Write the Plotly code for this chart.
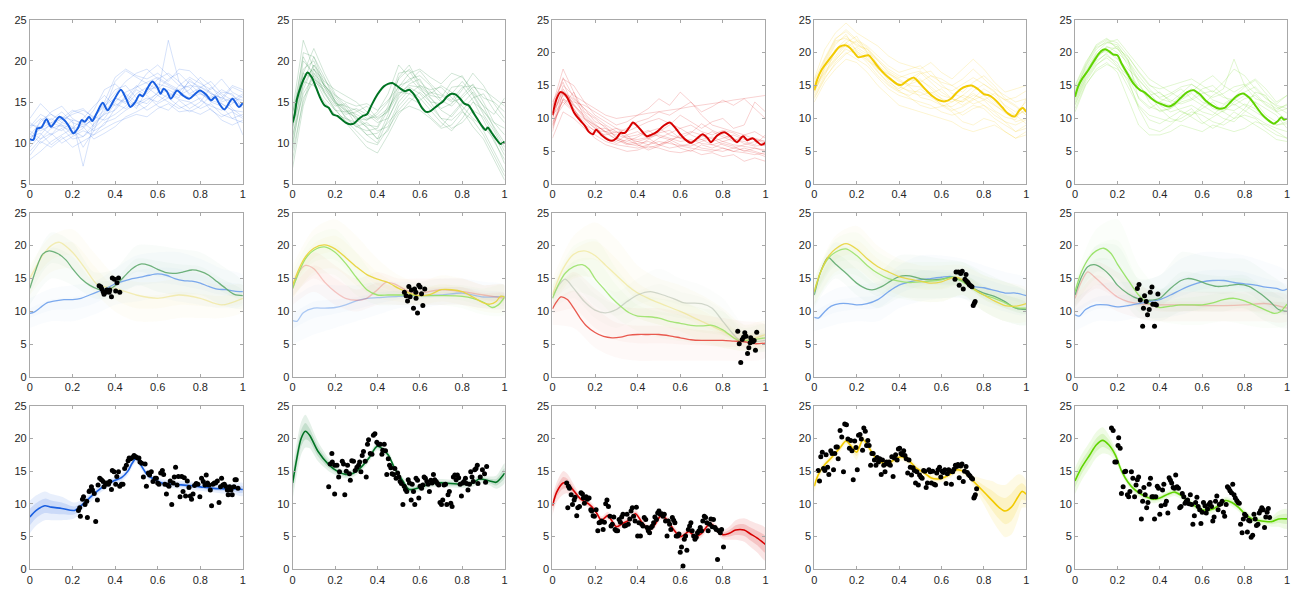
import plotly.graph_objects as go

# ---------------------------------------------------------------- grids
GRID20 = [0.0, 0.05, 0.1, 0.15, 0.2, 0.25, 0.3, 0.35, 0.4, 0.45, 0.5,
          0.55, 0.6, 0.65, 0.7, 0.75, 0.8, 0.85, 0.9, 0.95, 1.0]
GRID10 = [0.0, 0.1, 0.2, 0.3, 0.4, 0.5, 0.6, 0.7, 0.8, 0.9, 1.0]
X_TICKS = [0, 0.2, 0.4, 0.6, 0.8, 1.0]
X_TICK_TEXT = ["0", "0.2", "0.4", "0.6", "0.8", "1"]
Y_TICKS = [0, 5, 10, 15, 20, 25]

# ---------------------------------------------------------------- colours
BLUE = (25, 95, 225)
DGREEN = (0, 115, 35)
RED = (215, 0, 0)
YELLOW = (242, 202, 0)
LGREEN = (95, 212, 0)
MUTED_BLUE = (110, 160, 235)
MUTED_GREEN = (95, 170, 110)
MUTED_YELLOW = (232, 212, 60)
MUTED_LGREEN = (150, 225, 100)
MUTED_RED = (232, 80, 70)
MUTED_GRAY = (175, 185, 170)

# ============================================================ row 1 data
blue_runs = [
    [10.5, 11.8, 12.5, 12.0, 11.5, 10.8, 12.3, 13.5, 15.0, 16.2, 16.8, 17.5, 18.0, 17.2, 16.5, 17.0, 16.8, 16.0, 15.5, 15.0, 14.6],
    [12.0, 13.5, 12.8, 13.8, 12.5, 12.0, 13.0, 14.8, 16.5, 17.0, 15.5, 16.2, 17.8, 18.5, 17.5, 16.0, 16.8, 17.5, 16.0, 15.2, 16.0],
    [9.0, 10.5, 11.2, 10.0, 10.8, 11.5, 11.0, 12.5, 13.0, 14.0, 14.8, 15.5, 15.0, 16.0, 15.3, 15.0, 14.2, 14.8, 13.5, 13.0, 12.5],
    [11.0, 12.5, 13.8, 14.5, 13.0, 12.2, 12.8, 14.0, 17.5, 18.8, 18.0, 17.2, 16.5, 17.8, 18.5, 17.2, 16.0, 15.5, 16.5, 15.8, 14.8],
    [8.0, 9.0, 10.2, 11.0, 11.8, 12.0, 10.5, 11.2, 12.0, 13.2, 13.8, 14.5, 15.8, 15.0, 14.2, 14.8, 15.5, 14.0, 13.2, 13.8, 13.0],
    [12.5, 11.5, 12.2, 13.0, 14.0, 13.5, 12.0, 13.8, 15.5, 15.0, 16.8, 18.5, 19.5, 18.2, 17.0, 18.0, 17.2, 16.5, 17.8, 16.2, 15.5],
    [10.0, 12.0, 11.0, 12.5, 12.0, 9.5, 11.5, 12.2, 14.2, 15.8, 14.5, 15.2, 16.0, 22.5, 17.5, 15.8, 16.2, 15.0, 14.5, 13.0, 13.5],
    [11.5, 10.5, 11.8, 12.2, 11.0, 11.8, 13.2, 12.8, 13.5, 14.5, 16.0, 16.8, 15.8, 16.5, 15.8, 16.5, 18.0, 17.0, 15.2, 16.8, 16.2],
    [9.5, 11.0, 12.5, 13.2, 12.8, 12.5, 14.0, 16.5, 17.2, 16.0, 15.0, 14.0, 14.8, 15.5, 14.5, 13.8, 14.5, 15.8, 14.8, 14.0, 11.0],
    [13.0, 14.8, 13.5, 12.5, 13.8, 14.2, 13.0, 15.0, 18.0, 19.0, 18.2, 17.8, 18.5, 17.5, 19.0, 18.8, 17.5, 16.0, 15.5, 17.0, 16.5],
    [10.8, 11.2, 9.8, 10.8, 9.5, 10.2, 11.0, 11.8, 12.5, 13.0, 13.5, 13.2, 14.2, 14.8, 13.8, 14.0, 13.5, 14.2, 12.8, 12.2, 12.8],
    [11.8, 13.0, 12.0, 11.5, 12.8, 7.2, 12.5, 13.5, 14.0, 15.5, 17.0, 16.0, 17.2, 16.8, 16.2, 17.5, 16.8, 16.2, 15.0, 15.5, 15.2],
    [10.2, 12.8, 13.5, 12.8, 13.5, 14.0, 13.2, 14.5, 16.0, 17.5, 18.5, 19.0, 17.8, 17.0, 16.2, 15.5, 16.0, 15.2, 14.8, 14.0, 13.8],
    [11.2, 10.0, 11.0, 11.8, 10.5, 10.8, 11.8, 13.0, 14.8, 14.2, 15.2, 14.8, 16.2, 15.5, 17.0, 16.8, 15.2, 14.5, 14.0, 14.8, 15.8],
    [8.5, 10.2, 9.5, 10.5, 11.2, 12.5, 11.5, 14.5, 15.5, 14.8, 16.5, 15.8, 14.5, 14.0, 15.2, 14.2, 15.0, 16.8, 15.8, 14.2, 13.2],
    [12.2, 12.0, 13.0, 12.2, 11.8, 13.0, 14.5, 15.8, 14.5, 15.5, 14.2, 16.5, 16.8, 16.2, 15.5, 17.8, 16.5, 15.0, 16.2, 16.0, 14.2],
]
dgreen_runs = [
    [12.0, 17.0, 19.5, 17.0, 15.5, 14.0, 13.5, 12.8, 13.5, 15.0, 17.8, 19.0, 17.5, 16.2, 15.0, 16.0, 17.5, 15.8, 13.5, 11.5, 9.0],
    [8.0, 15.5, 17.5, 16.5, 14.8, 13.2, 12.0, 11.5, 11.8, 14.0, 16.5, 17.8, 18.2, 17.0, 15.2, 14.5, 15.8, 17.2, 15.0, 12.5, 11.8],
    [13.5, 20.5, 18.0, 15.5, 14.0, 13.8, 14.2, 13.5, 12.5, 13.0, 15.5, 16.8, 16.0, 14.5, 13.0, 12.8, 14.0, 15.5, 16.0, 14.0, 12.5],
    [10.5, 18.5, 21.5, 18.5, 16.0, 14.5, 12.8, 12.0, 10.5, 11.5, 14.5, 16.0, 17.0, 16.5, 16.8, 15.5, 14.5, 13.0, 12.0, 10.5, 7.5],
    [14.0, 22.5, 19.0, 17.0, 15.8, 15.0, 14.5, 14.8, 14.0, 15.2, 16.8, 18.5, 19.0, 18.0, 17.2, 18.5, 18.0, 16.5, 14.5, 13.5, 15.5],
    [11.0, 16.0, 18.2, 16.0, 14.2, 12.5, 11.0, 9.5, 8.8, 11.0, 13.5, 15.0, 16.2, 15.0, 13.0, 11.8, 12.5, 14.0, 13.2, 11.0, 8.5],
    [12.5, 19.0, 20.0, 16.8, 15.0, 14.0, 13.0, 12.8, 13.8, 16.0, 19.5, 18.0, 16.5, 15.5, 14.2, 14.8, 16.5, 18.5, 17.0, 14.8, 13.0],
    [9.5, 17.5, 17.0, 15.0, 13.5, 13.0, 12.5, 11.0, 11.2, 12.5, 14.0, 15.5, 14.8, 13.2, 12.0, 13.5, 15.0, 14.0, 11.5, 9.0, 6.5],
    [13.0, 18.0, 19.0, 17.5, 16.5, 15.8, 15.0, 13.8, 12.8, 14.0, 17.0, 17.5, 18.8, 17.2, 16.0, 15.2, 16.8, 17.0, 15.5, 15.0, 13.8],
    [7.0, 14.5, 18.5, 17.0, 15.2, 13.0, 12.0, 12.5, 11.5, 12.0, 15.0, 16.5, 15.5, 14.0, 12.5, 11.5, 13.0, 15.0, 14.0, 12.0, 10.0],
    [11.5, 20.0, 18.5, 16.2, 14.5, 14.8, 13.2, 11.8, 10.5, 13.5, 18.0, 19.5, 17.0, 16.0, 17.0, 16.2, 14.0, 12.0, 10.5, 8.0, 5.5],
    [12.8, 17.5, 20.5, 18.0, 15.0, 13.5, 13.8, 14.5, 13.0, 13.8, 16.0, 17.0, 16.8, 15.8, 15.5, 17.5, 18.2, 16.0, 13.8, 12.5, 11.0],
    [10.0, 16.5, 19.5, 17.8, 15.8, 14.2, 12.2, 11.0, 10.0, 12.8, 15.8, 17.2, 17.8, 15.5, 14.0, 13.2, 14.8, 16.2, 14.5, 11.8, 9.5],
    [12.2, 21.0, 20.5, 17.2, 15.2, 13.8, 13.2, 12.2, 12.0, 14.5, 18.5, 18.8, 16.8, 15.0, 14.8, 16.8, 17.0, 15.2, 12.8, 10.2, 8.0],
    [13.8, 18.5, 17.8, 16.8, 14.8, 14.5, 14.0, 13.0, 13.2, 14.2, 16.2, 16.0, 15.2, 16.2, 15.8, 15.0, 15.5, 16.8, 16.5, 15.5, 14.5],
    [9.0, 15.0, 19.0, 16.2, 14.0, 12.8, 11.5, 10.2, 9.8, 11.8, 13.8, 14.5, 14.0, 13.0, 11.8, 12.2, 13.8, 12.8, 11.0, 8.5, 6.0],
]
red_runs = [
    [10.0, 14.5, 12.0, 10.5, 9.0, 8.0, 7.5, 7.0, 6.8, 7.2, 7.5, 7.0, 6.5, 6.8, 6.2, 6.0, 6.5, 6.0, 5.8, 5.5, 5.2],
    [11.5, 16.0, 15.0, 12.5, 10.5, 9.5, 8.5, 8.0, 8.8, 9.5, 10.0, 9.2, 8.5, 9.0, 8.0, 7.5, 8.2, 7.8, 7.0, 6.8, 6.5],
    [9.0, 13.0, 11.5, 9.0, 7.5, 6.5, 6.0, 5.8, 5.5, 6.0, 6.5, 6.2, 5.8, 5.5, 5.2, 5.0, 5.5, 5.0, 4.8, 4.5, 4.8],
    [12.0, 17.5, 14.0, 11.0, 10.0, 8.5, 7.8, 8.5, 9.5, 10.0, 11.0, 10.5, 11.5, 12.5, 11.0, 11.8, 12.8, 12.0, 13.0, 11.5, 10.0],
    [10.5, 12.5, 11.0, 9.5, 8.0, 7.5, 8.0, 7.0, 6.5, 6.0, 7.0, 7.8, 8.5, 7.5, 6.8, 7.2, 6.5, 7.0, 6.2, 5.8, 6.0],
    [8.0, 14.0, 13.0, 11.5, 9.5, 8.8, 7.0, 6.5, 7.2, 8.0, 8.5, 7.5, 7.0, 6.5, 6.8, 6.0, 5.5, 5.0, 5.5, 5.0, 4.5],
    [11.0, 13.5, 12.5, 12.0, 11.0, 10.0, 9.0, 9.5, 10.5, 11.5, 13.0, 12.0, 14.0, 12.5, 10.5, 9.0, 8.5, 8.0, 7.5, 8.0, 7.0],
    [7.0, 11.0, 10.0, 8.5, 7.0, 6.0, 5.5, 5.0, 5.2, 5.8, 5.5, 5.0, 4.8, 5.2, 4.5, 4.8, 4.2, 4.5, 3.5, 4.0, 3.5],
    [10.0, 15.0, 13.5, 12.5, 11.5, 10.5, 10.0, 10.2, 10.5, 10.8, 11.0, 11.3, 11.5, 11.8, 12.0, 12.3, 12.5, 12.8, 13.0, 13.2, 13.5],
    [9.5, 12.0, 14.0, 10.0, 8.5, 7.0, 6.5, 7.5, 8.0, 7.0, 6.0, 6.5, 7.5, 8.0, 7.5, 6.5, 7.0, 7.5, 6.8, 7.0, 6.5],
    [12.5, 15.5, 11.5, 9.0, 8.2, 8.0, 8.5, 7.5, 6.0, 5.5, 6.0, 6.8, 6.0, 5.8, 6.5, 7.0, 6.0, 5.5, 6.0, 6.5, 5.8],
    [8.5, 13.0, 12.0, 10.0, 9.0, 8.0, 6.8, 6.2, 6.5, 7.0, 8.0, 9.0, 10.5, 9.5, 8.5, 9.5, 10.0, 8.5, 9.0, 12.5, 11.0],
    [9.2, 13.8, 12.8, 10.8, 9.2, 7.8, 6.8, 6.0, 6.2, 6.5, 6.0, 5.5, 5.8, 6.2, 5.5, 5.2, 5.0, 5.5, 5.2, 4.8, 4.2],
    [11.8, 16.2, 13.2, 11.5, 10.2, 9.0, 8.0, 7.2, 7.5, 8.2, 7.2, 6.8, 7.2, 6.5, 7.2, 8.0, 7.2, 6.5, 7.5, 6.8, 6.2],
    [10.8, 14.2, 12.2, 10.2, 8.8, 7.2, 6.2, 6.8, 6.0, 5.2, 5.8, 6.5, 5.5, 5.0, 6.0, 5.5, 6.2, 5.8, 5.0, 5.5, 5.0],
    [8.8, 12.8, 11.2, 9.8, 8.5, 8.5, 7.2, 6.2, 5.8, 6.8, 7.8, 8.2, 7.0, 7.8, 9.2, 8.2, 7.5, 6.8, 6.5, 6.0, 7.5],
]
yellow_runs = [
    [14.5, 17.5, 20.0, 21.5, 20.5, 19.5, 17.5, 16.0, 15.2, 15.8, 16.0, 14.5, 13.0, 12.5, 13.5, 14.8, 14.0, 12.5, 11.0, 10.5, 11.2],
    [13.0, 16.0, 18.5, 20.0, 19.0, 18.0, 16.2, 14.5, 13.5, 13.0, 12.5, 12.0, 11.0, 10.5, 11.0, 12.0, 11.5, 10.0, 9.0, 8.0, 9.0],
    [15.5, 19.0, 22.0, 23.5, 22.0, 21.0, 19.5, 18.0, 17.0, 17.5, 18.0, 16.5, 15.5, 15.0, 16.0, 17.5, 16.0, 14.5, 13.5, 12.5, 13.0],
    [14.0, 18.0, 20.5, 22.0, 21.5, 20.0, 18.0, 16.5, 15.0, 14.0, 13.5, 14.0, 13.0, 11.5, 10.5, 11.5, 12.0, 11.0, 9.5, 8.0, 8.5],
    [12.5, 15.5, 17.5, 19.0, 18.5, 17.0, 15.0, 13.5, 12.0, 11.5, 11.0, 10.5, 10.0, 9.5, 8.5, 8.0, 8.5, 9.0, 8.0, 7.0, 7.5],
    [16.0, 20.5, 23.0, 24.5, 23.0, 22.0, 21.0, 19.5, 18.5, 18.0, 17.5, 18.5, 17.0, 16.0, 17.5, 19.0, 17.5, 15.5, 14.0, 14.5, 15.0],
    [14.8, 17.0, 19.0, 20.5, 19.8, 19.0, 17.0, 15.5, 14.5, 16.0, 17.0, 15.5, 14.0, 13.0, 12.0, 13.0, 14.5, 13.5, 12.0, 11.0, 12.5],
    [13.5, 16.5, 20.5, 21.0, 20.0, 18.5, 16.5, 15.0, 14.0, 13.5, 14.5, 13.5, 12.0, 11.0, 9.5, 9.0, 10.0, 9.5, 8.0, 7.0, 8.0],
    [15.0, 18.5, 21.5, 22.5, 21.0, 20.5, 19.0, 17.5, 16.5, 16.0, 15.5, 16.5, 16.0, 15.0, 14.0, 15.5, 16.5, 15.0, 13.0, 12.0, 10.5],
    [13.8, 17.8, 19.5, 21.5, 22.5, 20.0, 17.5, 16.8, 16.0, 15.0, 14.8, 13.8, 14.5, 13.0, 12.5, 13.5, 13.0, 12.0, 11.0, 9.5, 10.0],
    [14.2, 16.8, 18.8, 20.8, 21.8, 20.8, 18.8, 17.0, 15.8, 14.8, 13.2, 12.8, 12.0, 11.8, 12.8, 13.8, 12.8, 11.2, 10.2, 9.8, 13.0],
    [15.2, 18.2, 21.2, 22.8, 20.2, 18.8, 17.8, 15.8, 14.2, 15.2, 16.8, 17.2, 15.2, 13.8, 13.2, 12.2, 12.8, 13.8, 12.8, 11.8, 10.5],
    [14.2, 17.2, 19.2, 21.2, 20.2, 19.2, 17.2, 15.2, 14.2, 13.2, 12.0, 11.5, 11.8, 12.5, 13.5, 13.0, 12.0, 10.5, 9.5, 9.0, 9.8],
    [15.8, 19.2, 22.2, 23.2, 21.8, 20.2, 18.8, 17.2, 16.2, 16.8, 17.2, 16.0, 14.8, 14.2, 15.2, 16.2, 15.2, 14.0, 12.8, 13.2, 14.2],
    [13.2, 16.2, 18.2, 19.8, 20.8, 19.8, 18.2, 16.2, 14.8, 14.2, 14.0, 13.2, 12.2, 11.2, 11.8, 12.8, 13.5, 12.2, 10.8, 10.2, 11.5],
    [14.6, 18.8, 21.8, 22.2, 21.2, 20.6, 18.2, 16.8, 15.6, 15.2, 15.8, 14.8, 13.5, 13.0, 12.5, 14.2, 15.2, 14.2, 11.8, 10.5, 9.2],
]
lgreen_runs = [
    [13.5, 17.0, 19.5, 20.5, 19.5, 17.0, 14.5, 13.0, 12.5, 12.0, 13.5, 14.5, 13.0, 11.5, 11.0, 12.5, 13.5, 12.5, 10.5, 9.5, 10.0],
    [12.0, 15.5, 18.0, 19.5, 18.5, 15.5, 12.0, 10.5, 10.0, 9.5, 10.0, 11.0, 10.5, 9.5, 9.0, 10.0, 10.5, 10.0, 8.5, 7.5, 7.0],
    [15.0, 18.5, 21.0, 22.0, 21.5, 19.5, 17.0, 15.0, 14.5, 15.0, 15.5, 16.0, 15.0, 14.0, 15.5, 17.5, 16.5, 14.5, 13.0, 12.0, 11.5],
    [13.0, 16.5, 19.0, 21.0, 20.0, 18.5, 15.5, 12.5, 11.0, 11.5, 12.5, 13.0, 14.5, 15.0, 13.5, 12.0, 13.0, 13.5, 12.0, 11.0, 11.5],
    [11.0, 15.0, 17.5, 18.5, 17.0, 13.0, 9.0, 7.5, 7.5, 8.0, 9.0, 8.5, 8.0, 9.0, 8.5, 8.0, 8.5, 9.5, 9.0, 8.0, 7.0],
    [14.5, 17.5, 20.0, 21.5, 22.0, 20.0, 18.0, 16.0, 15.0, 14.0, 13.0, 14.0, 15.5, 16.5, 15.0, 14.0, 15.0, 16.0, 14.5, 12.5, 13.5],
    [13.8, 16.8, 19.8, 20.2, 19.0, 17.5, 16.0, 14.0, 12.0, 11.0, 11.5, 12.0, 11.0, 10.5, 12.0, 13.0, 12.0, 11.0, 10.0, 9.0, 9.5],
    [12.5, 16.0, 18.5, 20.0, 21.0, 19.0, 13.0, 11.5, 12.5, 13.5, 14.5, 13.0, 12.0, 11.0, 10.0, 9.5, 11.0, 12.5, 11.5, 10.5, 8.5],
    [14.0, 17.8, 20.5, 21.8, 20.8, 18.0, 14.5, 13.5, 14.0, 12.5, 11.0, 10.5, 12.0, 13.5, 14.5, 19.0, 15.0, 13.0, 12.5, 11.5, 12.0],
    [12.8, 16.2, 18.8, 19.8, 18.0, 16.5, 15.0, 13.5, 11.5, 10.0, 9.5, 10.5, 11.5, 12.5, 11.0, 10.0, 11.5, 14.0, 13.5, 11.0, 9.8],
    [14.8, 18.2, 21.2, 22.2, 20.5, 18.8, 16.5, 14.5, 13.0, 12.5, 13.8, 15.2, 14.2, 12.8, 12.2, 13.2, 14.8, 15.8, 13.8, 12.2, 13.5],
    [11.5, 15.2, 17.2, 18.2, 17.5, 16.0, 11.5, 8.5, 8.0, 9.0, 10.5, 11.5, 9.5, 8.5, 9.5, 11.0, 10.0, 9.0, 8.0, 6.8, 6.5],
    [13.2, 16.6, 19.2, 20.6, 19.2, 16.2, 13.2, 11.8, 11.2, 11.5, 12.8, 13.8, 12.5, 11.8, 11.5, 11.2, 12.2, 11.5, 9.8, 9.0, 9.2],
    [14.2, 18.0, 20.8, 21.5, 21.2, 18.8, 15.8, 14.2, 13.2, 13.8, 14.8, 15.2, 14.0, 13.2, 13.8, 14.8, 15.2, 13.8, 12.2, 11.2, 12.2],
    [12.2, 15.8, 18.2, 19.2, 17.8, 14.8, 11.8, 9.8, 9.2, 10.2, 11.2, 10.2, 9.2, 10.2, 11.2, 12.2, 11.2, 10.2, 9.2, 8.5, 8.0],
    [13.6, 17.2, 19.6, 20.8, 20.6, 19.4, 17.2, 15.2, 13.8, 12.8, 12.2, 12.8, 13.8, 14.2, 13.2, 12.8, 14.0, 14.8, 13.2, 11.8, 10.8],
]

blue_mean = [(0, 10.5), (0.016, 10.4), (0.035, 11.8), (0.054, 11.9), (0.078, 12.9), (0.099, 12.0),
             (0.138, 13.2), (0.161, 12.8), (0.18, 12.2), (0.204, 11.2), (0.225, 11.8), (0.243, 12.8),
             (0.258, 12.6), (0.278, 13.2), (0.293, 12.7), (0.313, 13.6), (0.342, 14.9), (0.365, 14.0),
             (0.394, 15.2), (0.427, 16.5), (0.452, 15.4), (0.472, 14.4), (0.495, 15.0), (0.515, 15.9),
             (0.53, 15.7), (0.55, 16.6), (0.575, 17.5), (0.598, 16.8), (0.614, 16.0), (0.627, 16.6),
             (0.643, 16.3), (0.662, 15.4), (0.691, 16.4), (0.718, 15.8), (0.748, 15.4), (0.798, 16.4),
             (0.831, 15.8), (0.85, 15.2), (0.87, 15.6), (0.889, 14.8), (0.913, 14.1), (0.951, 15.4),
             (0.981, 14.4), (1.0, 14.9)]
dgreen_mean = [(0, 12.5), (0.01, 13.5), (0.02, 15.3), (0.04, 17.0), (0.06, 18.2), (0.07, 18.6),
               (0.09, 18.0), (0.11, 16.8), (0.13, 15.5), (0.15, 14.6), (0.17, 14.3), (0.19, 13.5),
               (0.21, 13.3), (0.23, 12.9), (0.25, 12.5), (0.27, 12.3), (0.29, 12.4), (0.31, 12.9),
               (0.33, 13.3), (0.35, 13.5), (0.37, 14.5), (0.39, 15.5), (0.41, 16.3), (0.43, 16.9),
               (0.45, 17.2), (0.47, 17.3), (0.49, 17.0), (0.51, 16.6), (0.53, 16.3), (0.55, 16.5),
               (0.57, 16.0), (0.59, 15.2), (0.61, 14.3), (0.63, 13.8), (0.65, 13.9), (0.67, 14.3),
               (0.69, 14.7), (0.71, 15.1), (0.73, 15.7), (0.75, 16.0), (0.77, 15.9), (0.79, 15.4),
               (0.81, 14.8), (0.83, 14.6), (0.85, 13.8), (0.87, 13.0), (0.89, 12.2), (0.91, 11.6),
               (0.92, 11.9), (0.94, 11.2), (0.96, 10.5), (0.98, 9.9), (1.0, 10.2)]
red_mean = [(0, 10.5), (0.02, 13.0), (0.037, 14.0), (0.06, 13.6), (0.08, 12.5), (0.1, 11.0),
            (0.13, 9.7), (0.15, 9.0), (0.17, 8.0), (0.19, 7.6), (0.205, 8.3), (0.23, 7.5),
            (0.26, 6.8), (0.28, 6.6), (0.3, 7.0), (0.32, 7.8), (0.34, 7.8), (0.36, 8.6),
            (0.378, 9.4), (0.4, 8.8), (0.424, 7.9), (0.443, 7.3), (0.463, 7.5), (0.492, 8.0),
            (0.522, 8.9), (0.551, 9.4), (0.581, 8.4), (0.6, 7.6), (0.62, 6.9), (0.65, 6.3),
            (0.68, 7.0), (0.705, 7.6), (0.729, 7.0), (0.744, 6.4), (0.773, 7.4), (0.807, 7.9),
            (0.836, 7.3), (0.866, 6.4), (0.895, 7.3), (0.915, 6.7), (0.94, 7.0), (0.96, 6.5),
            (0.98, 6.0), (1.0, 6.3)]
yellow_mean = [(0, 14.3), (0.014, 15.9), (0.033, 17.3), (0.062, 18.6), (0.091, 19.8), (0.12, 20.9),
               (0.15, 21.1), (0.169, 20.7), (0.188, 20.0), (0.208, 19.3), (0.227, 19.4), (0.256, 19.6),
               (0.276, 18.9), (0.305, 17.7), (0.334, 16.7), (0.363, 15.9), (0.392, 15.2), (0.412, 15.1),
               (0.441, 15.8), (0.47, 16.2), (0.499, 15.3), (0.528, 14.3), (0.557, 13.4), (0.586, 12.8),
               (0.616, 12.6), (0.645, 13.0), (0.674, 14.0), (0.703, 14.7), (0.742, 15.0), (0.771, 14.5),
               (0.8, 13.7), (0.825, 13.5), (0.858, 12.7), (0.887, 11.7), (0.916, 10.7), (0.946, 10.3),
               (0.969, 11.3), (0.984, 11.6), (1.0, 11.0)]
lgreen_mean = [(0, 13.3), (0.016, 14.95), (0.035, 16.1), (0.064, 17.4), (0.093, 18.9), (0.122, 20.2),
               (0.142, 20.5), (0.161, 20.2), (0.181, 19.7), (0.2, 19.6), (0.219, 18.4), (0.249, 16.7),
               (0.278, 15.2), (0.307, 14.3), (0.326, 14.0), (0.355, 13.2), (0.384, 12.5), (0.414, 12.1),
               (0.443, 11.8), (0.472, 12.3), (0.501, 13.2), (0.53, 14.0), (0.559, 14.3), (0.588, 13.7),
               (0.617, 12.7), (0.647, 12.0), (0.676, 11.5), (0.705, 11.6), (0.734, 12.5), (0.763, 13.4),
               (0.792, 13.8), (0.821, 13.2), (0.85, 12.0), (0.88, 10.7), (0.909, 9.8), (0.938, 9.2),
               (0.957, 9.6), (0.973, 10.2), (0.986, 9.8), (1.0, 10.0)]

# ============================================================ row 2 data
# spread of the sampled curves: (lower, upper) on GRID10
cloud21 = [
    (MUTED_BLUE, [7.5, 8.5, 8.5, 9.5, 11.0, 11.5, 12.0, 11.5, 11.0, 10.5, 11.0],
                 [12.0, 13.5, 14.0, 14.5, 16.5, 18.5, 19.0, 19.0, 18.0, 16.5, 15.5]),
    (MUTED_GREEN, [11.0, 15.0, 14.0, 12.0, 12.0, 14.0, 13.0, 12.5, 12.5, 11.0, 10.5],
                  [16.0, 22.0, 20.5, 16.0, 16.5, 20.0, 20.0, 19.5, 19.0, 17.0, 14.5]),
    (MUTED_YELLOW, [12.5, 16.0, 16.5, 13.0, 10.0, 8.5, 8.5, 9.0, 9.0, 9.0, 10.0],
                   [17.0, 21.5, 22.5, 19.0, 15.5, 14.5, 14.5, 15.0, 14.5, 14.0, 14.0]),
]
cloud22 = [
    (MUTED_BLUE, [5.0, 6.5, 7.5, 8.5, 9.5, 10.5, 10.5, 11.0, 11.0, 10.5, 10.5],
                 [12.0, 14.0, 14.0, 14.0, 14.5, 14.5, 14.5, 15.0, 15.0, 14.5, 14.0]),
    (MUTED_RED, [11.0, 13.0, 11.0, 10.0, 11.0, 11.0, 11.0, 11.0, 11.0, 10.5, 10.5],
                [15.0, 19.0, 17.0, 15.0, 16.0, 15.0, 15.0, 15.0, 15.0, 14.0, 14.0]),
    (MUTED_LGREEN, [12.0, 15.5, 15.5, 12.5, 11.0, 11.0, 11.0, 11.0, 10.5, 9.5, 9.5],
                   [16.0, 21.5, 22.5, 19.0, 15.0, 14.0, 14.0, 14.0, 14.0, 13.5, 14.0]),
    (MUTED_YELLOW, [12.0, 16.0, 16.5, 14.0, 12.0, 11.5, 11.0, 11.5, 11.0, 10.0, 10.0],
                   [17.0, 22.5, 24.0, 21.5, 18.0, 15.5, 14.5, 15.5, 15.0, 14.0, 14.0]),
]
cloud23 = [
    (MUTED_RED, [8.0, 7.5, 4.5, 3.0, 2.5, 2.5, 2.5, 2.5, 2.5, 2.5, 3.0],
                [13.0, 16.0, 13.5, 11.0, 10.5, 10.5, 10.0, 9.5, 9.0, 8.5, 8.0]),
    (MUTED_GRAY, [10.5, 12.0, 9.0, 7.5, 9.0, 9.5, 9.0, 8.5, 6.5, 4.5, 4.0],
                 [14.0, 17.5, 14.5, 13.0, 15.0, 16.5, 15.0, 14.0, 12.0, 8.0, 8.0]),
    (MUTED_LGREEN, [10.5, 13.0, 12.0, 9.0, 7.0, 6.0, 5.5, 5.0, 4.5, 4.0, 4.0],
                   [14.0, 20.0, 21.0, 16.5, 13.0, 12.0, 11.5, 10.5, 10.0, 7.5, 8.0]),
    (MUTED_YELLOW, [11.0, 15.0, 15.0, 12.0, 9.0, 8.0, 7.0, 5.5, 4.5, 4.0, 4.5],
                   [15.0, 21.5, 23.5, 21.0, 17.0, 15.0, 14.0, 12.5, 10.5, 8.0, 8.5]),
]
cloud24 = [
    (MUTED_BLUE, [7.0, 8.0, 8.5, 8.5, 10.5, 11.5, 12.0, 12.0, 11.0, 10.0, 9.5],
                 [11.5, 13.5, 14.0, 14.5, 17.0, 18.5, 18.5, 18.0, 17.0, 16.0, 15.0]),
    (MUTED_GREEN, [10.5, 15.0, 12.5, 10.5, 12.0, 12.0, 12.0, 12.0, 10.0, 8.5, 8.0],
                  [14.5, 20.5, 18.5, 16.0, 18.5, 18.5, 18.0, 17.5, 16.0, 14.5, 13.0]),
    (MUTED_LGREEN, [11.0, 15.5, 15.5, 13.0, 12.0, 11.5, 11.5, 12.5, 10.0, 8.5, 8.0],
                   [15.0, 21.0, 22.0, 19.0, 17.5, 17.5, 17.5, 17.5, 15.5, 14.5, 13.0]),
    (MUTED_YELLOW, [11.0, 16.0, 16.5, 14.0, 12.5, 11.5, 11.5, 12.5, 10.0, 8.5, 8.5],
                   [15.0, 21.5, 23.0, 20.0, 18.0, 17.0, 17.0, 17.0, 15.5, 14.5, 13.5]),
]
cloud25 = [
    (MUTED_BLUE, [7.0, 8.5, 8.5, 9.0, 9.0, 9.5, 10.5, 11.0, 11.0, 10.0, 10.0],
                 [12.0, 14.0, 14.5, 14.5, 15.5, 18.0, 19.0, 19.0, 18.5, 17.5, 16.0]),
    (MUTED_RED, [9.5, 11.5, 10.0, 9.0, 8.5, 8.5, 8.5, 8.5, 8.5, 8.5, 8.5],
                [13.5, 17.5, 16.0, 14.0, 13.0, 13.0, 13.0, 13.0, 13.0, 13.0, 12.5]),
    (MUTED_GREEN, [10.5, 14.0, 12.5, 9.0, 8.5, 10.0, 10.0, 10.0, 10.5, 8.5, 7.5],
                  [14.5, 20.0, 20.0, 15.0, 15.5, 19.0, 18.5, 18.0, 18.0, 16.0, 13.5]),
    (MUTED_LGREEN, [11.0, 15.0, 14.5, 10.0, 8.5, 8.0, 8.0, 8.5, 8.0, 7.5, 8.0],
                   [15.0, 22.5, 24.0, 17.0, 13.5, 14.0, 14.5, 15.0, 15.0, 13.5, 13.0]),
]

m21_yellow = [(0, 15.0), (0.05, 18.0), (0.1, 20.0), (0.14, 20.5), (0.2, 19.0), (0.26, 16.5), (0.32, 14.0),
              (0.4, 13.5), (0.5, 12.5), (0.6, 12.0), (0.7, 12.5), (0.8, 12.0), (0.9, 11.0), (1.0, 12.0)]
m21_green = [(0, 13.5), (0.03, 16.5), (0.06, 18.7), (0.09, 19.2), (0.13, 18.8), (0.17, 17.8), (0.2, 16.5),
             (0.24, 15.0), (0.28, 14.0), (0.32, 13.4), (0.36, 13.2), (0.4, 13.9), (0.44, 15.2), (0.48, 16.5),
             (0.52, 17.2), (0.56, 17.0), (0.6, 16.4), (0.64, 15.9), (0.68, 15.8), (0.72, 16.0), (0.76, 16.3),
             (0.8, 16.1), (0.84, 15.5), (0.88, 14.5), (0.92, 13.5), (0.96, 12.6), (1.0, 12.4)]
m21_blue = [(0, 9.7), (0.02, 9.9), (0.05, 10.6), (0.08, 11.3), (0.12, 11.6), (0.16, 11.8), (0.2, 11.8),
            (0.24, 12.0), (0.28, 12.5), (0.32, 13.0), (0.36, 13.5), (0.4, 14.2), (0.44, 14.6), (0.48, 15.0),
            (0.52, 15.2), (0.56, 15.5), (0.6, 15.7), (0.64, 15.5), (0.68, 15.0), (0.72, 14.7), (0.76, 14.6),
            (0.8, 14.3), (0.84, 13.8), (0.88, 13.4), (0.92, 13.3), (0.96, 13.1), (1.0, 13.0)]

m22_gray = [(0, 13.5), (0.03, 16.0), (0.06, 17.0), (0.1, 16.5), (0.15, 14.5), (0.2, 13.0), (0.25, 12.0),
            (0.3, 11.7), (0.35, 12.0), (0.4, 13.3), (0.44, 14.4), (0.48, 14.2), (0.55, 13.0), (0.6, 12.8),
            (0.7, 13.3), (0.8, 13.0), (0.9, 12.5), (1.0, 12.0)]
m22_blue = [(0, 8.6), (0.02, 8.5), (0.05, 9.8), (0.1, 10.5), (0.15, 10.5), (0.2, 10.6), (0.25, 11.0),
            (0.3, 11.6), (0.35, 12.0), (0.4, 12.1), (0.5, 12.3), (0.6, 12.4), (0.7, 12.5), (0.8, 12.8),
            (0.9, 12.2), (1.0, 12.3)]
m22_lgreen = [(0, 13.5), (0.03, 16.0), (0.06, 18.0), (0.1, 19.3), (0.15, 19.8), (0.2, 19.0), (0.25, 17.3),
              (0.3, 15.2), (0.35, 13.3), (0.4, 12.5), (0.45, 12.5), (0.5, 12.5), (0.55, 12.5), (0.6, 12.4),
              (0.7, 12.4), (0.8, 12.3), (0.85, 12.0), (0.9, 11.4), (0.94, 10.6), (0.97, 11.0), (1.0, 12.2)]
m22_yellow = [(0, 14.0), (0.03, 16.5), (0.06, 18.3), (0.1, 19.6), (0.15, 20.1), (0.2, 19.5), (0.25, 18.2),
              (0.3, 16.8), (0.35, 15.6), (0.4, 14.9), (0.45, 14.4), (0.5, 13.5), (0.55, 12.8), (0.6, 12.4),
              (0.65, 12.6), (0.7, 13.3), (0.75, 13.3), (0.8, 13.0), (0.85, 12.2), (0.9, 11.3), (0.93, 11.1),
              (0.96, 11.5), (0.98, 12.3), (1.0, 12.2)]

m23_yellow = [(0, 12.5), (0.05, 16.5), (0.1, 18.7), (0.15, 19.2), (0.2, 18.5), (0.25, 17.0), (0.3, 15.5),
              (0.35, 14.0), (0.4, 12.8), (0.45, 12.0), (0.5, 11.3), (0.6, 10.0), (0.7, 8.5), (0.8, 7.0),
              (0.87, 5.8), (0.92, 5.7), (1.0, 6.5)]
m23_gray = [(0, 12.0), (0.03, 14.0), (0.06, 14.9), (0.1, 13.5), (0.15, 11.5), (0.2, 10.2), (0.25, 9.8),
            (0.3, 10.3), (0.35, 11.5), (0.4, 12.5), (0.46, 13.0), (0.52, 12.5), (0.58, 11.8), (0.62, 11.3),
            (0.7, 11.2), (0.75, 10.5), (0.8, 8.5), (0.85, 6.5), (0.88, 5.6), (0.92, 5.3), (1.0, 5.6)]
m23_lgreen = [(0, 12.0), (0.03, 14.2), (0.06, 15.8), (0.1, 16.8), (0.14, 17.1), (0.17, 16.5), (0.2, 15.0),
              (0.24, 13.5), (0.28, 12.0), (0.32, 10.8), (0.36, 9.8), (0.4, 9.3), (0.45, 9.2), (0.5, 9.0),
              (0.55, 8.5), (0.6, 8.2), (0.65, 7.9), (0.7, 7.8), (0.75, 7.9), (0.8, 7.2), (0.85, 6.0),
              (0.88, 5.5), (0.92, 5.6), (0.96, 5.8), (1.0, 6.0)]
m23_red = [(0, 10.4), (0.02, 11.5), (0.04, 12.2), (0.07, 11.8), (0.1, 10.5), (0.13, 9.0), (0.16, 7.8),
           (0.2, 6.8), (0.24, 6.2), (0.28, 6.0), (0.32, 6.1), (0.36, 6.4), (0.4, 6.5), (0.45, 6.5),
           (0.5, 6.5), (0.55, 6.3), (0.6, 6.0), (0.65, 5.7), (0.7, 5.6), (0.8, 5.6), (0.85, 5.5),
           (0.9, 5.4), (0.95, 5.1), (1.0, 5.2)]

m24_blue = [(0, 9.1), (0.02, 9.0), (0.05, 10.0), (0.08, 10.8), (0.12, 11.2), (0.16, 11.2), (0.2, 11.0),
            (0.25, 11.2), (0.3, 11.8), (0.35, 13.0), (0.4, 14.0), (0.45, 14.5), (0.5, 14.8), (0.55, 15.0),
            (0.6, 15.2), (0.65, 15.3), (0.7, 14.7), (0.75, 13.8), (0.8, 13.6), (0.85, 13.2), (0.9, 12.8),
            (0.95, 12.8), (1.0, 12.4)]
m24_green = [(0, 12.5), (0.03, 16.0), (0.065, 18.2), (0.1, 17.2), (0.15, 15.8), (0.2, 14.3), (0.25, 13.4),
             (0.28, 13.3), (0.32, 13.8), (0.36, 14.6), (0.4, 15.3), (0.45, 15.4), (0.5, 15.0), (0.55, 14.8),
             (0.6, 14.9), (0.65, 15.2), (0.7, 14.6), (0.75, 13.5), (0.8, 12.8), (0.85, 12.3), (0.9, 11.5),
             (0.95, 10.5), (1.0, 10.3)]
m24_lgreen = [(0, 13.0), (0.03, 16.0), (0.07, 18.2), (0.1, 19.0), (0.15, 19.5), (0.2, 18.5), (0.25, 17.0),
              (0.3, 15.8), (0.35, 15.0), (0.4, 14.6), (0.45, 14.4), (0.5, 14.5), (0.55, 14.6), (0.6, 14.8),
              (0.65, 15.2), (0.7, 14.5), (0.75, 13.4), (0.8, 12.5), (0.85, 12.0), (0.9, 11.3), (0.95, 10.6),
              (1.0, 10.5)]
m24_yellow = [(0, 13.0), (0.03, 16.0), (0.07, 18.5), (0.1, 19.5), (0.15, 20.3), (0.2, 19.5), (0.25, 18.0),
              (0.3, 16.8), (0.35, 16.0), (0.4, 15.3), (0.45, 14.9), (0.5, 14.6), (0.55, 14.3), (0.6, 14.5),
              (0.64, 15.0), (0.67, 15.2), (0.7, 14.8), (0.75, 13.5), (0.8, 12.5), (0.85, 11.6), (0.9, 10.9),
              (0.95, 10.8), (1.0, 11.2)]

m25_red = [(0, 12.0), (0.03, 14.5), (0.06, 16.0), (0.1, 15.0), (0.15, 13.5), (0.2, 12.2), (0.25, 11.5),
           (0.3, 11.2), (0.4, 11.0), (0.5, 11.0), (0.6, 10.9), (0.7, 10.9), (0.8, 11.0), (0.9, 11.2), (1.0, 10.5)]
m25_blue = [(0, 9.5), (0.02, 9.3), (0.05, 10.3), (0.1, 11.0), (0.15, 11.0), (0.2, 10.7), (0.25, 10.9),
            (0.3, 11.2), (0.35, 11.5), (0.4, 11.8), (0.45, 12.5), (0.5, 13.3), (0.55, 14.0), (0.6, 14.5),
            (0.65, 14.7), (0.7, 14.7), (0.75, 14.4), (0.8, 14.2), (0.85, 14.0), (0.9, 13.7), (0.95, 13.5),
            (0.98, 13.2), (1.0, 13.4)]
m25_green = [(0, 12.5), (0.03, 15.2), (0.06, 16.8), (0.09, 17.1), (0.13, 16.5), (0.17, 15.3), (0.2, 14.0),
             (0.25, 12.7), (0.3, 11.9), (0.35, 11.7), (0.4, 12.0), (0.45, 13.5), (0.5, 14.7), (0.53, 15.0),
             (0.57, 14.8), (0.62, 14.2), (0.67, 13.8), (0.72, 13.9), (0.77, 14.1), (0.82, 13.8), (0.87, 12.8),
             (0.92, 11.5), (0.96, 10.3), (1.0, 10.0)]
m25_lgreen = [(0, 13.0), (0.03, 16.0), (0.07, 18.3), (0.1, 19.2), (0.135, 19.6), (0.17, 18.8), (0.2, 17.2),
              (0.25, 14.8), (0.3, 12.5), (0.35, 11.2), (0.4, 10.6), (0.45, 10.8), (0.5, 11.0), (0.55, 11.0),
              (0.6, 11.0), (0.65, 11.3), (0.7, 11.8), (0.75, 12.0), (0.8, 11.6), (0.85, 10.9), (0.9, 10.2),
              (0.94, 9.7), (0.97, 10.0), (1.0, 11.1)]

obs21 = [(0.325, 13.9), (0.333, 13.75), (0.338, 13.4), (0.344, 13.0), (0.348, 12.6), (0.356, 12.9),
         (0.361, 13.25), (0.369, 13.1), (0.372, 12.9), (0.375, 13.25), (0.383, 12.25), (0.387, 15.1),
         (0.397, 14.9), (0.403, 13.1), (0.409, 14.35), (0.416, 15.1), (0.422, 12.9)]
obs22 = [(0.527, 12.9), (0.535, 12.4), (0.542, 11.6), (0.548, 13.8), (0.554, 12.25), (0.560, 13.25),
         (0.570, 10.5), (0.575, 13.4), (0.582, 12.0), (0.589, 9.75), (0.595, 14.0), (0.601, 13.7),
         (0.608, 12.7), (0.614, 10.9), (0.623, 13.4), (0.581, 12.9)]
obs23 = [(0.870, 7.0), (0.877, 5.1), (0.884, 2.25), (0.891, 5.75), (0.897, 6.1), (0.903, 6.75),
         (0.909, 6.25), (0.916, 3.6), (0.922, 4.5), (0.928, 5.25), (0.934, 5.75), (0.941, 5.4),
         (0.947, 5.6), (0.953, 4.1), (0.959, 6.85), (0.931, 6.0)]
obs24 = [(0.664, 14.9), (0.669, 16.0), (0.680, 16.0), (0.684, 14.0), (0.691, 15.75), (0.698, 16.1),
         (0.703, 13.4), (0.711, 14.9), (0.716, 15.6), (0.719, 14.6), (0.725, 14.4), (0.731, 14.1),
         (0.738, 13.9), (0.744, 13.75), (0.750, 10.9), (0.755, 11.25), (0.759, 11.5)]
obs25 = [(0.294, 13.5), (0.302, 14.1), (0.308, 11.75), (0.319, 7.75), (0.323, 10.5), (0.328, 12.4),
         (0.336, 11.5), (0.342, 9.5), (0.350, 10.3), (0.355, 12.9), (0.363, 13.7), (0.367, 11.1),
         (0.375, 7.75), (0.378, 11.1), (0.384, 11.0), (0.391, 12.65)]

# ============================================================ row 3 data
# (x, fitted value, half-width of the posterior band)
fit_blue = [(0, 8.0, 2.5), (0.03, 9.0, 2.3), (0.07, 9.7, 2.2), (0.1, 9.5, 2.0), (0.15, 9.3, 1.8),
            (0.21, 9.0, 1.2), (0.25, 10.0, 0.8), (0.3, 11.5, 0.7), (0.33, 12.3, 0.6), (0.36, 13.0, 0.6),
            (0.4, 13.6, 0.6), (0.43, 14.0, 0.6), (0.46, 15.0, 0.6), (0.48, 16.2, 0.6), (0.5, 17.0, 0.6),
            (0.52, 16.0, 0.6), (0.55, 14.5, 0.6), (0.58, 13.8, 0.6), (0.62, 13.2, 0.6), (0.67, 13.0, 0.6),
            (0.75, 12.8, 0.6), (0.8, 12.6, 0.6), (0.85, 12.4, 0.6), (0.9, 12.3, 0.7), (0.95, 12.3, 0.8),
            (1.0, 12.2, 1.0)]
fit_dgreen = [(0, 13.2, 2.5), (0.02, 17.0, 2.5), (0.04, 20.0, 2.5), (0.06, 21.1, 2.5), (0.08, 20.5, 2.0),
              (0.12, 18.0, 1.5), (0.17, 16.0, 1.0), (0.21, 15.0, 0.7), (0.25, 14.5, 0.6), (0.28, 14.6, 0.6),
              (0.32, 15.5, 0.6), (0.36, 17.0, 0.6), (0.4, 18.8, 0.6), (0.45, 17.5, 0.6), (0.48, 15.5, 0.6),
              (0.52, 13.5, 0.6), (0.55, 12.2, 0.6), (0.6, 12.5, 0.6), (0.65, 13.1, 0.6), (0.7, 13.2, 0.6),
              (0.8, 13.0, 0.6), (0.85, 13.2, 0.6), (0.88, 13.8, 0.6), (0.93, 13.5, 0.7), (0.96, 13.3, 1.0),
              (1.0, 14.7, 1.5)]
fit_red = [(0, 9.7, 1.5), (0.02, 11.8, 1.5), (0.05, 13.2, 1.8), (0.07, 13.1, 1.5), (0.1, 12.0, 1.0),
           (0.13, 10.8, 0.6), (0.17, 10.0, 0.6), (0.2, 9.0, 0.6), (0.23, 7.5, 0.6), (0.26, 8.2, 0.6),
           (0.3, 6.5, 0.6), (0.33, 7.0, 0.6), (0.36, 7.5, 0.6), (0.39, 8.5, 0.6), (0.42, 7.2, 0.6),
           (0.45, 6.2, 0.6), (0.48, 6.8, 0.6), (0.51, 8.2, 0.6), (0.54, 7.5, 0.6), (0.57, 6.0, 0.6),
           (0.6, 5.0, 0.6), (0.62, 5.3, 0.6), (0.64, 5.8, 0.6), (0.67, 5.0, 0.6), (0.7, 5.5, 0.6),
           (0.74, 7.0, 0.6), (0.77, 6.2, 0.6), (0.8, 5.3, 0.7), (0.83, 5.5, 1.0), (0.86, 6.0, 1.5),
           (0.9, 6.0, 1.8), (0.93, 5.4, 2.0), (0.96, 4.8, 2.2), (1.0, 3.8, 2.5)]
fit_yellow = [(0, 12.7, 1.0), (0.02, 14.5, 0.8), (0.05, 16.0, 0.6), (0.08, 17.0, 0.6), (0.12, 18.5, 0.6),
              (0.15, 19.6, 0.6), (0.17, 19.0, 0.8), (0.2, 17.9, 1.2), (0.23, 19.8, 0.6), (0.26, 18.5, 0.6),
              (0.29, 17.0, 0.6), (0.32, 16.3, 0.6), (0.35, 16.2, 0.6), (0.38, 16.8, 0.6), (0.41, 17.2, 0.6),
              (0.45, 16.5, 0.6), (0.48, 15.5, 0.6), (0.52, 14.7, 0.6), (0.55, 14.0, 0.6), (0.58, 13.8, 0.6),
              (0.61, 14.0, 0.6), (0.64, 14.5, 0.6), (0.67, 15.2, 0.6), (0.7, 15.0, 0.6), (0.73, 14.3, 0.6),
              (0.75, 13.5, 0.8), (0.78, 12.5, 1.5), (0.81, 11.5, 2.2), (0.84, 10.5, 3.0), (0.87, 9.5, 3.5),
              (0.9, 8.9, 4.0), (0.93, 9.5, 4.2), (0.96, 11.0, 3.5), (0.98, 11.9, 2.5), (1.0, 11.5, 2.0)]
fit_lgreen = [(0, 13.5, 2.0), (0.03, 15.5, 2.0), (0.07, 17.5, 2.0), (0.1, 19.0, 2.0), (0.13, 19.7, 2.0),
              (0.16, 19.0, 1.5), (0.19, 17.5, 1.0), (0.22, 15.0, 0.6), (0.25, 13.3, 0.6), (0.28, 12.2, 0.6),
              (0.31, 11.5, 0.6), (0.34, 11.0, 0.6), (0.37, 10.7, 0.6), (0.4, 10.9, 0.6), (0.44, 11.5, 0.6),
              (0.47, 11.8, 0.6), (0.5, 11.3, 0.6), (0.53, 10.5, 0.6), (0.56, 9.8, 0.6), (0.59, 9.2, 0.6),
              (0.62, 9.0, 0.6), (0.65, 9.2, 0.6), (0.68, 9.8, 0.6), (0.71, 10.5, 0.6), (0.74, 10.2, 0.6),
              (0.77, 9.5, 0.6), (0.8, 8.5, 0.6), (0.83, 7.8, 0.6), (0.86, 7.5, 0.6), (0.9, 7.3, 0.6),
              (0.93, 7.3, 0.8), (0.96, 7.7, 1.2), (1.0, 7.7, 1.5)]

pts_blue = [(0.228, 9.0), (0.234, 9.4), (0.237, 8.1), (0.247, 10.7), (0.252, 11.1), (0.259, 9.9), (0.267, 10.4),
            (0.270, 7.9), (0.278, 11.9), (0.281, 12.0), (0.289, 12.6), (0.294, 12.1), (0.302, 11.6), (0.309, 7.3),
            (0.317, 10.6), (0.320, 12.9), (0.328, 13.9), (0.336, 13.7), (0.344, 13.4), (0.348, 12.6), (0.356, 13.0),
            (0.362, 13.2), (0.369, 13.0), (0.375, 13.4), (0.383, 12.2), (0.387, 15.1), (0.395, 14.9), (0.403, 13.0),
            (0.408, 14.2), (0.416, 14.9), (0.422, 12.7), (0.430, 13.0), (0.437, 13.0), (0.445, 15.4), (0.453, 15.9),
            (0.461, 16.6), (0.466, 17.0), (0.473, 16.9), (0.481, 17.1), (0.489, 17.4), (0.497, 17.2), (0.505, 17.0),
            (0.512, 17.0), (0.517, 16.4), (0.525, 16.2), (0.533, 14.1), (0.541, 16.1), (0.547, 12.7), (0.556, 14.7),
            (0.562, 14.4), (0.570, 14.9), (0.578, 13.4), (0.588, 13.9), (0.594, 13.9), (0.600, 13.2), (0.606, 13.0),
            (0.614, 14.7), (0.622, 15.1), (0.628, 14.5), (0.634, 13.0), (0.641, 11.5), (0.647, 12.9), (0.653, 12.7),
            (0.659, 13.5), (0.666, 9.9), (0.673, 13.2), (0.678, 14.1), (0.684, 15.6), (0.691, 12.9), (0.697, 14.2),
            (0.705, 11.1), (0.713, 14.2), (0.719, 11.9), (0.725, 14.0), (0.731, 11.2), (0.739, 13.5), (0.747, 12.5),
            (0.753, 11.2), (0.759, 10.7), (0.766, 11.5), (0.773, 12.8), (0.781, 13.1), (0.789, 13.0), (0.798, 11.1),
            (0.806, 13.9), (0.814, 13.4), (0.822, 12.9), (0.828, 14.4), (0.834, 13.2), (0.841, 12.9), (0.847, 12.1),
            (0.853, 9.7), (0.859, 13.0), (0.866, 13.2), (0.872, 13.2), (0.880, 13.5), (0.888, 10.2), (0.895, 12.6),
            (0.900, 13.9), (0.906, 12.9), (0.913, 13.0), (0.919, 12.7), (0.927, 12.1), (0.931, 11.4), (0.938, 12.6),
            (0.944, 12.1), (0.950, 11.4), (0.958, 12.6), (0.963, 13.7), (0.969, 13.7), (0.977, 12.4)]
pts_dgreen = [(0.170, 12.6), (0.177, 16.1), (0.185, 17.7), (0.187, 16.4), (0.198, 11.5), (0.198, 15.9), (0.209, 15.9),
              (0.217, 14.1), (0.221, 14.9), (0.234, 16.5), (0.240, 16.1), (0.246, 11.4), (0.253, 15.0), (0.259, 15.9),
              (0.268, 14.6), (0.272, 13.6), (0.279, 16.6), (0.287, 16.5), (0.295, 15.1), (0.303, 15.6), (0.311, 15.9),
              (0.316, 16.4), (0.322, 14.9), (0.328, 17.4), (0.334, 18.0), (0.342, 16.5), (0.347, 14.1), (0.353, 19.1),
              (0.358, 19.8), (0.366, 17.7), (0.374, 17.6), (0.381, 20.5), (0.388, 20.7), (0.397, 19.4), (0.405, 19.1),
              (0.413, 19.1), (0.421, 17.6), (0.425, 18.2), (0.432, 19.1), (0.438, 18.1), (0.444, 14.5), (0.451, 16.9),
              (0.457, 15.9), (0.463, 15.5), (0.469, 14.6), (0.476, 14.5), (0.482, 15.4), (0.488, 13.9), (0.495, 14.7),
              (0.501, 14.1), (0.507, 13.4), (0.513, 13.1), (0.520, 9.9), (0.526, 12.7), (0.532, 12.2), (0.538, 11.9),
              (0.545, 13.7), (0.551, 13.2), (0.559, 10.6), (0.564, 13.0), (0.570, 11.9), (0.576, 9.9), (0.582, 13.9),
              (0.589, 13.6), (0.595, 10.9), (0.601, 12.7), (0.608, 12.4), (0.614, 12.9), (0.620, 14.1), (0.626, 13.9),
              (0.633, 13.4), (0.639, 13.0), (0.645, 11.9), (0.652, 13.6), (0.658, 13.2), (0.664, 14.5), (0.670, 13.7),
              (0.677, 13.4), (0.683, 13.1), (0.689, 12.9), (0.695, 10.2), (0.702, 9.9), (0.708, 10.6), (0.714, 12.9),
              (0.721, 13.0), (0.727, 9.9), (0.733, 11.4), (0.739, 11.9), (0.746, 10.1), (0.752, 9.6), (0.758, 14.1),
              (0.765, 14.4), (0.771, 13.7), (0.777, 14.4), (0.783, 14.0), (0.790, 13.0), (0.796, 11.2), (0.802, 13.2),
              (0.808, 13.4), (0.815, 13.9), (0.821, 13.1), (0.827, 12.1), (0.834, 13.0), (0.840, 14.9), (0.846, 14.1),
              (0.852, 13.4), (0.859, 15.2), (0.865, 15.4), (0.871, 15.9), (0.874, 13.1), (0.885, 14.1), (0.895, 15.2),
              (0.905, 14.6), (0.915, 15.7), (0.910, 13.3)]
pts_red = [(0.067, 13.2), (0.075, 12.7), (0.080, 12.4), (0.072, 9.4), (0.088, 11.4), (0.094, 9.9), (0.102, 10.6),
           (0.106, 11.0), (0.114, 8.2), (0.119, 9.4), (0.127, 9.6), (0.134, 11.7), (0.141, 11.5), (0.145, 10.9),
           (0.150, 10.1), (0.158, 11.1), (0.164, 10.7), (0.172, 10.9), (0.180, 9.1), (0.184, 8.9), (0.191, 8.2),
           (0.197, 8.1), (0.205, 9.1), (0.213, 5.9), (0.219, 7.1), (0.225, 7.2), (0.231, 7.4), (0.238, 6.1),
           (0.244, 7.2), (0.250, 10.0), (0.256, 10.6), (0.263, 9.6), (0.270, 8.1), (0.275, 6.6), (0.281, 6.9),
           (0.288, 8.0), (0.294, 6.1), (0.300, 5.9), (0.306, 5.9), (0.313, 7.6), (0.319, 7.2), (0.325, 8.0),
           (0.331, 8.4), (0.338, 6.6), (0.344, 6.7), (0.350, 8.4), (0.356, 6.9), (0.363, 7.7), (0.369, 8.9),
           (0.375, 9.4), (0.381, 8.1), (0.388, 7.4), (0.394, 9.5), (0.400, 5.1), (0.406, 7.1), (0.413, 5.1),
           (0.419, 6.9), (0.425, 6.6), (0.431, 7.9), (0.438, 7.6), (0.444, 6.4), (0.450, 5.9), (0.456, 5.6),
           (0.463, 6.4), (0.469, 6.6), (0.475, 7.1), (0.481, 8.0), (0.488, 7.6), (0.494, 8.6), (0.500, 8.9),
           (0.506, 8.4), (0.513, 8.5), (0.519, 8.1), (0.525, 8.4), (0.531, 7.4), (0.538, 5.1), (0.544, 7.4),
           (0.550, 6.9), (0.556, 6.1), (0.563, 7.9), (0.569, 7.5), (0.575, 7.1), (0.581, 5.1), (0.588, 5.1),
           (0.594, 5.4), (0.600, 2.6), (0.606, 3.4), (0.613, 0.5), (0.619, 4.6), (0.625, 5.1), (0.631, 2.9),
           (0.638, 6.1), (0.644, 6.6), (0.650, 7.1), (0.656, 5.9), (0.663, 5.1), (0.669, 4.6), (0.675, 4.9),
           (0.681, 5.6), (0.688, 5.9), (0.694, 6.4), (0.700, 5.9), (0.706, 7.4), (0.713, 8.1), (0.719, 7.9),
           (0.725, 7.1), (0.731, 5.9), (0.738, 6.9), (0.744, 7.7), (0.750, 6.5), (0.756, 7.6), (0.763, 6.4),
           (0.769, 6.1), (0.775, 1.5), (0.781, 5.9), (0.788, 5.6), (0.794, 6.1), (0.803, 3.4)]
pts_yellow = [(0.019, 15.1), (0.025, 13.5), (0.031, 17.2), (0.038, 17.9), (0.044, 15.4), (0.050, 15.1), (0.056, 17.5),
              (0.063, 15.6), (0.069, 14.5), (0.078, 18.1), (0.084, 17.7), (0.091, 15.2), (0.097, 17.7), (0.103, 18.7),
              (0.109, 18.7), (0.113, 16.9), (0.122, 21.2), (0.130, 20.2), (0.138, 14.9), (0.144, 22.2), (0.152, 22.1),
              (0.159, 19.9), (0.166, 18.5), (0.172, 19.7), (0.178, 18.1), (0.184, 13.7), (0.191, 19.6), (0.197, 18.6),
              (0.203, 15.2), (0.209, 20.5), (0.216, 20.6), (0.222, 19.9), (0.228, 18.2), (0.234, 21.6), (0.241, 21.1),
              (0.247, 18.9), (0.253, 19.7), (0.259, 18.9), (0.266, 15.9), (0.272, 17.7), (0.278, 17.7), (0.284, 16.7),
              (0.291, 15.9), (0.297, 17.1), (0.303, 16.4), (0.309, 16.9), (0.316, 14.5), (0.322, 16.7), (0.328, 15.9),
              (0.334, 14.9), (0.341, 16.4), (0.347, 16.1), (0.353, 16.4), (0.359, 15.9), (0.366, 17.2), (0.372, 14.2),
              (0.378, 17.0), (0.384, 17.5), (0.391, 16.7), (0.397, 18.4), (0.403, 18.5), (0.409, 17.7), (0.416, 17.5),
              (0.422, 18.1), (0.428, 17.4), (0.434, 16.9), (0.441, 14.7), (0.447, 16.7), (0.453, 15.6), (0.459, 14.4),
              (0.466, 15.5), (0.472, 15.1), (0.478, 13.2), (0.484, 14.9), (0.491, 12.9), (0.497, 14.4), (0.503, 14.1),
              (0.509, 13.9), (0.516, 15.1), (0.522, 15.0), (0.528, 12.5), (0.534, 13.2), (0.541, 15.2), (0.547, 14.9),
              (0.553, 13.2), (0.559, 15.0), (0.566, 13.0), (0.572, 12.9), (0.578, 14.7), (0.584, 15.2), (0.591, 15.6),
              (0.597, 14.1), (0.603, 15.0), (0.609, 14.8), (0.616, 15.2), (0.622, 13.1), (0.628, 14.6), (0.634, 15.2),
              (0.641, 15.0), (0.647, 13.0), (0.653, 14.9), (0.659, 15.3), (0.666, 15.9), (0.672, 15.7), (0.678, 16.0),
              (0.684, 14.0), (0.691, 15.8), (0.697, 16.1), (0.703, 13.4), (0.709, 15.0), (0.716, 15.7), (0.722, 14.8),
              (0.728, 14.5), (0.734, 14.3), (0.741, 14.0), (0.747, 13.8), (0.753, 10.9), (0.756, 11.1), (0.760, 11.4),
              (0.766, 12.3)]
pts_lgreen = [(0.172, 21.6), (0.180, 21.2), (0.188, 16.4), (0.195, 16.4), (0.203, 18.9), (0.206, 20.1), (0.213, 18.5),
              (0.219, 11.6), (0.227, 12.6), (0.234, 14.9), (0.239, 15.0), (0.247, 11.4), (0.253, 11.1), (0.259, 11.9),
              (0.266, 14.9), (0.273, 13.9), (0.281, 11.1), (0.288, 12.9), (0.294, 13.7), (0.300, 14.1), (0.306, 11.9),
              (0.313, 7.7), (0.319, 10.4), (0.325, 12.5), (0.331, 11.4), (0.338, 9.4), (0.344, 10.2), (0.350, 13.0),
              (0.356, 13.9), (0.363, 11.1), (0.369, 11.1), (0.375, 7.7), (0.381, 11.1), (0.388, 12.7), (0.394, 12.4),
              (0.400, 8.4), (0.406, 9.7), (0.413, 12.1), (0.419, 13.0), (0.425, 9.9), (0.431, 10.4), (0.438, 8.6),
              (0.444, 14.0), (0.450, 13.6), (0.456, 13.2), (0.463, 12.5), (0.469, 12.4), (0.475, 14.4), (0.481, 12.6),
              (0.488, 12.4), (0.494, 9.4), (0.500, 9.6), (0.506, 11.6), (0.513, 11.1), (0.519, 10.1), (0.525, 10.4),
              (0.531, 10.6), (0.538, 10.0), (0.544, 11.4), (0.550, 9.9), (0.556, 6.9), (0.563, 8.2), (0.569, 10.2),
              (0.575, 11.0), (0.581, 9.6), (0.588, 9.1), (0.594, 7.0), (0.600, 8.7), (0.606, 10.2), (0.613, 9.7),
              (0.619, 8.6), (0.625, 9.2), (0.631, 9.9), (0.638, 10.2), (0.644, 9.6), (0.650, 7.4), (0.656, 8.0),
              (0.663, 10.4), (0.669, 11.2), (0.675, 9.1), (0.681, 9.9), (0.688, 10.0), (0.694, 10.4), (0.700, 8.7),
              (0.706, 8.1), (0.713, 9.9), (0.719, 12.6), (0.725, 12.4), (0.731, 12.0), (0.738, 11.7), (0.744, 13.0),
              (0.750, 11.4), (0.756, 10.9), (0.763, 10.5), (0.769, 10.2), (0.775, 10.1), (0.781, 6.9), (0.788, 5.6),
              (0.794, 7.7), (0.800, 8.4), (0.806, 8.2), (0.813, 5.7), (0.819, 7.5), (0.825, 7.4), (0.831, 4.9),
              (0.838, 5.2), (0.844, 8.4), (0.850, 7.7), (0.856, 6.7), (0.863, 6.9), (0.869, 8.6), (0.875, 9.0),
              (0.881, 9.4), (0.888, 9.1), (0.894, 6.4), (0.900, 8.0), (0.906, 8.7), (0.912, 9.3), (0.918, 7.9)]

# ============================================================ drawing helpers
COL_PX = [(27, 241), (291, 504), (552, 766), (815, 1028), (1077, 1290)]
ROW_PX = [(14, 182), (211, 379), (408, 575)]
W, H = 1293, 590

fig = go.Figure()


def axis_ids(r, c):
    i = (r - 1) * 5 + c
    return ("x" if i == 1 else f"x{i}"), ("y" if i == 1 else f"y{i}")


def rgba(col, a):
    return f"rgba({col[0]},{col[1]},{col[2]},{a})"


def add_line(r, c, xs, ys, col, width, alpha=1.0, shape="linear"):
    xa, ya = axis_ids(r, c)
    fig.add_trace(go.Scatter(x=list(xs), y=list(ys), mode="lines", xaxis=xa, yaxis=ya,
                             line=dict(color=rgba(col, alpha), width=width, shape=shape, smoothing=0.8),
                             hoverinfo="skip", showlegend=False))


def add_band(r, c, xs, lo, hi, col, alpha):
    xa, ya = axis_ids(r, c)
    xs = list(xs)
    fig.add_trace(go.Scatter(x=xs + xs[::-1], y=list(hi) + list(lo)[::-1], mode="lines",
                             xaxis=xa, yaxis=ya, fill="toself", fillcolor=rgba(col, alpha),
                             line=dict(width=0, shape="spline", smoothing=0.8),
                             hoverinfo="skip", showlegend=False))


def add_pairs(r, c, pairs, col, width, alpha=1.0):
    add_line(r, c, [p[0] for p in pairs], [p[1] for p in pairs], col, width, alpha, "spline")


def add_points(r, c, pairs):
    xa, ya = axis_ids(r, c)
    fig.add_trace(go.Scatter(x=[p[0] for p in pairs], y=[p[1] for p in pairs], mode="markers",
                             xaxis=xa, yaxis=ya, marker=dict(color="black", size=5, line=dict(width=0)),
                             hoverinfo="skip", showlegend=False))


# ---------------------------------------------------------------- row 1
row1 = [(blue_runs, blue_mean, BLUE), (dgreen_runs, dgreen_mean, DGREEN), (red_runs, red_mean, RED),
        (yellow_runs, yellow_mean, YELLOW), (lgreen_runs, lgreen_mean, LGREEN)]
for c, (runs, mean, col) in enumerate(row1, start=1):
    for run in runs:
        add_line(1, c, GRID20, run, col, 0.7, 0.26)
    add_pairs(1, c, mean, col, 2.0)

# ---------------------------------------------------------------- row 2
row2 = [
    (cloud21, [(m21_yellow, MUTED_YELLOW, 0.35), (m21_blue, MUTED_BLUE, 0.9), (m21_green, MUTED_GREEN, 0.9)], obs21),
    (cloud22, [(m22_blue, MUTED_BLUE, 0.55), (m22_gray, MUTED_RED, 0.3), (m22_lgreen, MUTED_LGREEN, 0.9),
               (m22_yellow, MUTED_YELLOW, 0.95)], obs22),
    (cloud23, [(m23_yellow, MUTED_YELLOW, 0.35), (m23_gray, MUTED_GRAY, 0.55), (m23_lgreen, MUTED_LGREEN, 0.85),
               (m23_red, MUTED_RED, 0.95)], obs23),
    (cloud24, [(m24_blue, MUTED_BLUE, 0.9), (m24_green, MUTED_GREEN, 0.9), (m24_lgreen, MUTED_LGREEN, 0.85),
               (m24_yellow, MUTED_YELLOW, 0.9)], obs24),
    (cloud25, [(m25_red, MUTED_RED, 0.3), (m25_blue, MUTED_BLUE, 0.9), (m25_green, MUTED_GREEN, 0.9),
               (m25_lgreen, MUTED_LGREEN, 0.95)], obs25),
]
for c, (cloud, means, obs) in enumerate(row2, start=1):
    for col, lo, hi in cloud:
        add_band(2, c, GRID10, lo, hi, col, 0.035)
        mid_lo = [(a * 2 + b) / 3 for a, b in zip(lo, hi)]
        mid_hi = [(a + b * 2) / 3 for a, b in zip(lo, hi)]
        add_band(2, c, GRID10, mid_lo, mid_hi, col, 0.035)
    for pairs, col, a in means:
        add_pairs(2, c, pairs, col, 1.3, a)
    add_points(2, c, obs)

# ---------------------------------------------------------------- row 3
row3 = [(fit_blue, pts_blue, BLUE), (fit_dgreen, pts_dgreen, DGREEN), (fit_red, pts_red, RED),
        (fit_yellow, pts_yellow, YELLOW), (fit_lgreen, pts_lgreen, LGREEN)]
for c, (fit, pts, col) in enumerate(row3, start=1):
    xs = [f[0] for f in fit]
    ys = [f[1] for f in fit]
    ws = [f[2] for f in fit]
    add_band(3, c, xs, [y - w for y, w in zip(ys, ws)], [y + w for y, w in zip(ys, ws)], col, 0.10)
    add_band(3, c, xs, [y - 0.5 * w for y, w in zip(ys, ws)], [y + 0.5 * w for y, w in zip(ys, ws)], col, 0.14)
    add_line(3, c, xs, ys, col, 1.6, 1.0, "spline")
    add_points(3, c, pts)

# ---------------------------------------------------------------- axes
FONT = "Liberation Sans, Arial, sans-serif"
AX_COLOR = "#a8a8a8"
layout = dict(width=W, height=H, margin=dict(l=0, r=0, t=0, b=0),
              paper_bgcolor="white", plot_bgcolor="white", showlegend=False,
              font=dict(family=FONT, size=11, color="#262626"))
for r in range(1, 4):
    for c in range(1, 6):
        i = (r - 1) * 5 + c
        xa, ya = axis_ids(r, c)
        x0, x1 = COL_PX[c - 1]
        top, bot = ROW_PX[r - 1]
        ymin = 5 if (r == 1 and c <= 2) else 0
        common = dict(showline=True, linecolor=AX_COLOR, linewidth=1, mirror="ticks",
                      ticks="inside", ticklen=3, tickcolor=AX_COLOR, showgrid=False, zeroline=False,
                      tickfont=dict(family=FONT, size=11, color="#262626"), fixedrange=True)
        layout["xaxis" if i == 1 else f"xaxis{i}"] = dict(
            domain=[x0 / W, x1 / W], anchor=ya, range=[0, 1],
            tickvals=X_TICKS, ticktext=X_TICK_TEXT, **common)
        layout["yaxis" if i == 1 else f"yaxis{i}"] = dict(
            domain=[1 - bot / H, 1 - top / H], anchor=xa, range=[ymin, 25],
            tickvals=[t for t in Y_TICKS if t >= ymin], **common)
fig.update_layout(**layout)

fig.write_html("out.html")
